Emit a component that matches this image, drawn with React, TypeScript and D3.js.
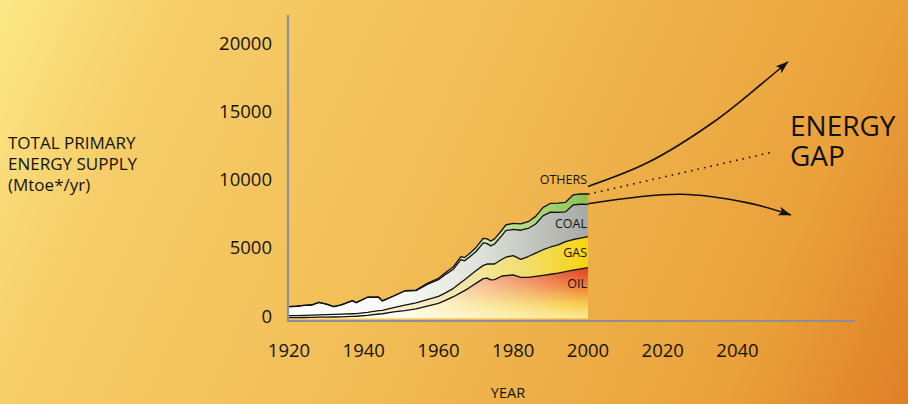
import React from 'react';
import * as d3 from 'd3';

const years = [1920,1922,1924,1926,1928,1930,1932,1934,1937,1938,1941,1944,1945,1948,1951,1954,1957,1960,1962,1964,1966,1967,1968,1970,1972,1973,1974,1975,1977,1978,1980,1982,1984,1986,1988,1990,1992,1994,1996,1998,2000];
const oil = [60,65,75,85,95,105,110,120,150,165,230,330,350,480,580,700,900,1115,1350,1600,1900,2050,2215,2580,2930,2960,2830,2850,3120,3150,3195,3025,3025,3100,3170,3250,3330,3440,3550,3640,3730];
const gas = [145,150,155,165,175,185,190,195,200,195,220,245,250,320,400,450,480,505,550,615,750,800,855,920,970,1040,1170,1150,1230,1350,1425,1320,1525,1700,1880,2000,2070,2200,2250,2260,2275];
const coal = [665,685,730,740,920,760,570,685,960,800,1110,985,690,850,1040,900,1130,1230,1360,1405,1670,1390,1380,1400,1650,1500,1330,1470,1750,1945,1930,2135,2060,2140,2500,2560,2390,2190,2540,2490,2375];
const others = [0,0,0,0,0,0,0,0,0,0,0,0,0,0,20,40,70,100,140,180,220,230,250,300,340,350,360,380,400,420,440,470,500,560,610,650,680,700,730,750,760];

const layerKeys = ['oil', 'gas', 'coal', 'others'];
const layerLabels = ['OIL', 'GAS', 'COAL', 'OTHERS'];

const xTicks = [1920, 1940, 1960, 1980, 2000, 2020, 2040];
const yTicks = [0, 5000, 10000, 15000, 20000];

// projections (year, Mtoe/yr)
const highProjection: [number, number][] = [[2000, 9700], [2016, 11450], [2033.5, 14410], [2047, 17350], [2053.5, 18850]];
const lowProjection: [number, number][] = [[2000, 8430], [2024.7, 9120], [2042.5, 8510], [2054.3, 7600]];
const gapLine: [number, number][] = [[2000, 9120], [2048.8, 12180]];

const yAxisTitle = ['TOTAL PRIMARY', 'ENERGY SUPPLY', '(Mtoe*/yr)'];
const xAxisTitle = 'YEAR';
const gapTitle = ['ENERGY', 'GAP'];

const W = 908;
const H = 404;
const FONT = "'Open Sans', 'Noto Sans', sans-serif";

export default function App() {
  const x = d3.scaleLinear().domain([1920, 2000]).range([289, 588]);
  const y = d3.scaleLinear().domain([0, 20000]).range([318.5, 46.1]);

  const table = years.map((yr, i) => ({ year: yr, oil: oil[i], gas: gas[i], coal: coal[i], others: others[i] }));
  const series = d3.stack<any>().keys(layerKeys)(table);

  const area = d3.area<any>()
    .x((d) => x(d.data.year))
    .y0((d) => y(d[0]))
    .y1((d) => y(d[1]));
  const topLine = d3.line<any>()
    .x((d) => x(d.data.year))
    .y((d) => y(d[1]));
  const proj = d3.line<[number, number]>()
    .x((d) => x(d[0]))
    .y((d) => y(d[1]))
    .curve(d3.curveCatmullRom.alpha(0.5));

  const fills = ['url(#oilV)', 'url(#gasH)', 'url(#coalH)', 'url(#othH)'];
  const labelVals = [series[0][series[0].length - 1], series[1][series[1].length - 1], series[2][series[2].length - 1], series[3][series[3].length - 1]];
  const labelY = [288.3, 257.3, 227.7, 184.3];

  return (
    <svg width={W} height={H} style={{ position: 'fixed', left: 0, top: 0, display: 'block' }} fontFamily={FONT}>
      <defs>
        <linearGradient id="bg" gradientUnits="userSpaceOnUse" x1={0} y1={0} x2={W} y2={H}>
          <stop offset="0" stopColor="#fbe886" />
          <stop offset="0.17" stopColor="#f6cd68" />
          <stop offset="0.46" stopColor="#f2be57" />
          <stop offset="0.83" stopColor="#eaa13a" />
          <stop offset="1" stopColor="#df7f28" />
        </linearGradient>
        <linearGradient id="oilV" gradientUnits="userSpaceOnUse" x1={0} y1={y(3700)} x2={0} y2={y(0)}>
          <stop offset="0" stopColor="#e4402b" />
          <stop offset="0.35" stopColor="#ee7d3b" />
          <stop offset="0.72" stopColor="#f7cf50" />
          <stop offset="1" stopColor="#faeb98" />
        </linearGradient>
        <linearGradient id="oilW" gradientUnits="userSpaceOnUse" x1={x(1950)} y1={0} x2={x(1998)} y2={0}>
          <stop offset="0" stopColor="#fffdf2" stopOpacity={0.95} />
          <stop offset="0.45" stopColor="#fffbe8" stopOpacity={0.55} />
          <stop offset="1" stopColor="#fffbe8" stopOpacity={0} />
        </linearGradient>
        <linearGradient id="gasH" gradientUnits="userSpaceOnUse" x1={x(1935)} y1={0} x2={x(2000)} y2={0}>
          <stop offset="0" stopColor="#fdf8e4" />
          <stop offset="0.45" stopColor="#f4e8b0" />
          <stop offset="0.75" stopColor="#f2de6c" />
          <stop offset="1" stopColor="#f8d40e" />
        </linearGradient>
        <linearGradient id="coalH" gradientUnits="userSpaceOnUse" x1={x(1925)} y1={0} x2={x(2000)} y2={0}>
          <stop offset="0" stopColor="#ffffff" />
          <stop offset="0.35" stopColor="#f7f8f3" />
          <stop offset="0.6" stopColor="#e1e4dc" />
          <stop offset="0.85" stopColor="#bcbfb8" />
          <stop offset="1" stopColor="#a6a9a5" />
        </linearGradient>
        <linearGradient id="othH" gradientUnits="userSpaceOnUse" x1={x(1950)} y1={0} x2={x(2000)} y2={0}>
          <stop offset="0" stopColor="#f1f8e6" />
          <stop offset="0.45" stopColor="#cce6ae" />
          <stop offset="0.8" stopColor="#a3d172" />
          <stop offset="1" stopColor="#88c24f" />
        </linearGradient>
        <clipPath id="oilClip">
          <path d={area(series[0] as any) || ''} />
        </clipPath>
        <marker id="arrowHead" viewBox="0 0 13 9" refX={12.5} refY={4.5} markerWidth={13} markerHeight={9} markerUnits="userSpaceOnUse" orient="auto">
          <path d="M0,0 L13,4.5 L0,9 L3,4.5 z" fill="#111" />
        </marker>
      </defs>

      <rect x={0} y={0} width={W} height={H} fill="url(#bg)" />

      {/* stacked areas */}
      {series.map((s, i) => (
        <path key={layerKeys[i]} d={area(s as any) || ''} fill={fills[i]} />
      ))}
      <rect x={x(1920)} y={y(4000)} width={x(2000) - x(1920)} height={y(0) - y(4000)} fill="url(#oilW)" clipPath="url(#oilClip)" />
      {series.map((s, i) => (
        <path key={'l' + layerKeys[i]} d={topLine(s as any) || ''} fill="none" stroke="#111" strokeWidth={1.3} strokeLinejoin="round" />
      ))}

      {/* axes */}
      <line x1={288} x2={288} y1={15} y2={y(0) + 2.5} stroke="#8e8f94" strokeWidth={2.2} />
      <line x1={287} x2={x(2071.5)} y1={y(0) + 2.5} y2={y(0) + 2.5} stroke="#8e8f94" strokeWidth={2.2} />

      {yTicks.map((t) => (
        <text key={t} x={272} y={y(t) - 3.5} textAnchor="end" dominantBaseline="central" fontSize={18.5} fill="#141414">{t}</text>
      ))}
      {xTicks.map((t) => (
        <text key={t} x={x(t)} y={357} textAnchor="middle" fontSize={18.5} fill="#141414">{t}</text>
      ))}
      <text x={508} y={398} textAnchor="middle" fontSize={14.5} fill="#141414">{xAxisTitle}</text>
      {yAxisTitle.map((t, i) => (
        <text key={t} x={8} y={149 + i * 21} fontSize={17} fill="#141414">{t}</text>
      ))}

      {/* layer labels */}
      {layerLabels.map((t, i) => (
        <text key={t} x={587} y={labelY[i]} textAnchor="end" fontSize={12.5} fill="#141414">{t}</text>
      ))}

      {/* projections */}
      <path d={proj(highProjection) || ''} fill="none" stroke="#111" strokeWidth={1.6} markerEnd="url(#arrowHead)" />
      <path d={proj(lowProjection) || ''} fill="none" stroke="#111" strokeWidth={1.6} markerEnd="url(#arrowHead)" />
      <path d={proj(gapLine) || ''} fill="none" stroke="#111" strokeWidth={1.6} strokeDasharray="1.6 5" />

      {gapTitle.map((t, i) => (
        <text key={t} x={790} y={136 + i * 30} fontSize={28} fill="#111">{t}</text>
      ))}
    </svg>
  );
}
